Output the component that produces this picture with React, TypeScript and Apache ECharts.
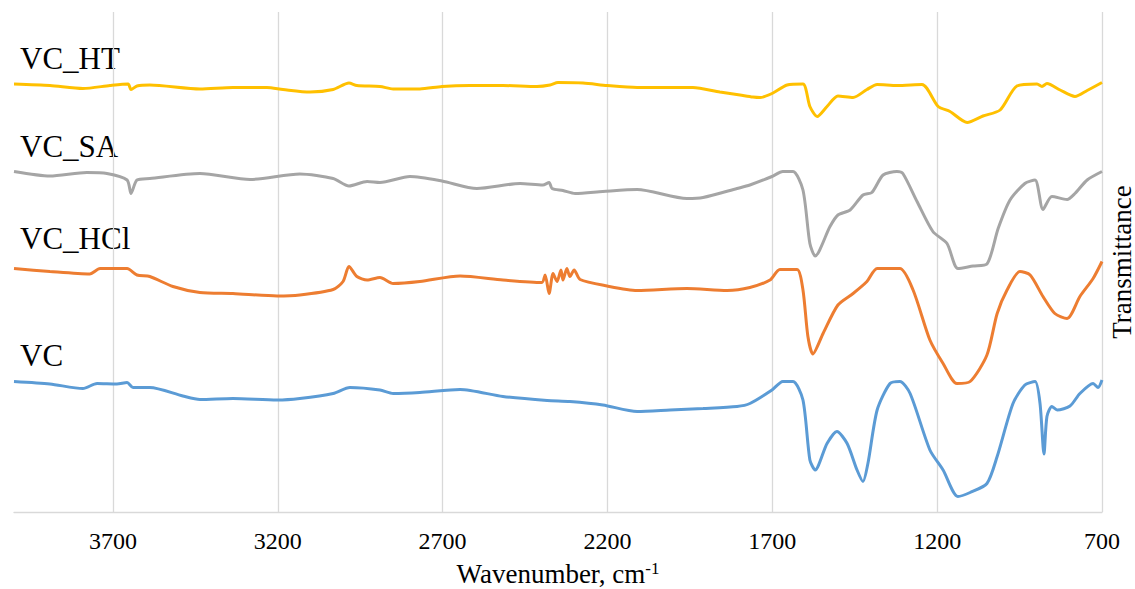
import React, { useEffect, useRef } from "react";
import * as echarts from "echarts";

// ---- data (wavenumber, cm-1 / transmittance, arbitrary offset units) ----
const vcWave = [4000, 3891, 3791, 3748, 3688, 3657, 3639, 3588, 3488, 3436, 3336, 3202, 3133, 3032, 2981, 2890, 2850, 2769, 2647, 2517, 2383, 2314, 2214, 2110, 2010, 1910, 1807, 1768, 1701, 1668, 1637, 1607, 1586, 1570, 1534, 1504, 1473, 1443, 1425, 1410, 1382, 1343, 1313, 1282, 1222, 1182, 1137, 1100, 1049, 1018, 970, 934, 903, 888, 876, 867, 852, 836, 797, 767, 727, 712, 700];
const vcT = [26.1, 25.6, 24.7, 25.7, 25.6, 25.9, 24.9, 24.9, 23.2, 22.5, 22.7, 22.4, 22.7, 23.7, 24.9, 24.4, 23.7, 23.9, 24.5, 23.1, 22.3, 22.1, 21.4, 20.1, 20.4, 20.7, 21.1, 21.7, 24.4, 26.1, 26.1, 22.4, 10.4, 8.4, 13.7, 16.1, 13.7, 8.4, 6.1, 9.7, 20.4, 25.7, 26.1, 23.7, 12.4, 8.4, 3.1, 3.9, 5.7, 11.1, 21.7, 25.4, 26.1, 21.7, 11.6, 19.1, 21.1, 20.4, 21.2, 23.7, 25.7, 24.9, 26.4];

const hclWave = [4000, 3891, 3770, 3739, 3657, 3627, 3588, 3518, 3436, 3336, 3202, 3133, 3032, 3002, 2984, 2960, 2929, 2890, 2850, 2769, 2647, 2517, 2399, 2389, 2377, 2365, 2353, 2341, 2335, 2323, 2314, 2301, 2283, 2201, 2110, 1959, 1837, 1768, 1707, 1677, 1625, 1607, 1592, 1577, 1546, 1501, 1455, 1413, 1382, 1313, 1273, 1222, 1182, 1140, 1100, 1049, 1018, 988, 949, 918, 879, 843, 806, 767, 727, 700];
const hclT = [48.7, 48.1, 47.6, 48.7, 48.7, 47.4, 47.1, 45.1, 43.9, 43.7, 43.2, 43.4, 44.5, 46.1, 49.1, 47.1, 46.4, 46.9, 45.7, 46.1, 47.2, 46.4, 45.9, 47.4, 43.7, 47.7, 46.1, 48.4, 46.4, 48.7, 47.1, 48.4, 46.5, 45.2, 44.3, 44.7, 44.3, 44.9, 46.4, 48.5, 48.5, 44.4, 35.1, 31.6, 35.7, 41.4, 43.7, 46.1, 48.7, 48.7, 44.4, 34.4, 29.7, 25.7, 26.1, 31.4, 39.7, 44.4, 48.1, 47.4, 43.1, 39.7, 38.7, 43.1, 46.7, 50.1];

const saWave = [4000, 3891, 3779, 3718, 3657, 3645, 3627, 3588, 3436, 3284, 3133, 3032, 2984, 2929, 2890, 2799, 2702, 2596, 2465, 2396, 2377, 2368, 2335, 2298, 2214, 2110, 1959, 1910, 1807, 1768, 1701, 1668, 1637, 1607, 1586, 1570, 1525, 1501, 1464, 1425, 1398, 1364, 1322, 1304, 1261, 1213, 1170, 1137, 1091, 1049, 1015, 979, 934, 903, 879, 852, 806, 782, 745, 700];
const saT = [68.1, 67.2, 67.9, 67.7, 66.4, 63.7, 66.4, 66.7, 67.7, 66.5, 67.6, 66.7, 65.2, 66.1, 65.9, 67.1, 66.2, 64.7, 65.7, 65.4, 65.9, 64.7, 64.3, 63.7, 64.1, 64.5, 62.7, 62.9, 64.7, 65.4, 67.1, 68.1, 68.1, 64.4, 53.7, 51.2, 57.1, 59.4, 60.4, 63.4, 63.9, 67.4, 68.1, 67.7, 62.1, 56.1, 53.7, 48.7, 49.2, 49.6, 56.7, 62.4, 65.7, 66.4, 60.5, 63.1, 62.5, 63.7, 66.4, 68.1];

const htWave = [4000, 3891, 3791, 3709, 3654, 3645, 3627, 3588, 3436, 3336, 3233, 3184, 3102, 3032, 2984, 2960, 2890, 2850, 2769, 2702, 2617, 2517, 2414, 2374, 2350, 2274, 2201, 2110, 2010, 1941, 1859, 1798, 1759, 1737, 1701, 1655, 1607, 1586, 1564, 1534, 1501, 1455, 1413, 1382, 1322, 1246, 1197, 1161, 1109, 1061, 1009, 958, 897, 882, 867, 827, 782, 745, 700];
const htT = [85.6, 85.3, 84.7, 85.3, 85.6, 84.5, 85.2, 85.4, 84.6, 84.9, 84.9, 84.5, 84.0, 84.5, 85.8, 85.3, 85.1, 84.6, 84.6, 85.1, 85.3, 85.3, 85.1, 85.4, 85.9, 85.8, 85.3, 84.9, 84.9, 84.9, 84.0, 83.4, 83.0, 82.9, 83.7, 85.4, 85.6, 81.1, 79.1, 81.1, 83.2, 82.9, 84.5, 85.5, 85.3, 85.5, 81.1, 80.1, 77.9, 79.2, 80.4, 85.2, 85.6, 85.1, 85.7, 84.4, 83.1, 84.3, 85.9];

const seriesNames = ["VC", "VC_HCl", "VC_SA", "VC_HT"];
const seriesColors = ["#5B9BD5", "#ED7D31", "#A5A5A5", "#FFC000"];
const xTicks = [700, 1200, 1700, 2200, 2700, 3200, 3700];
const xMin = 700;
const xMax = 4000;
const xInterval = 500;

const curveLabels = ["VC_HT", "VC_SA", "VC_HCl", "VC"];
const curveLabelTops = [43, 131, 223, 340];

const FONT = "'Liberation Serif', 'Times New Roman', serif";

function pairs(w: number[], t: number[]) {
  return w.map((x, i) => [x, t[i]]);
}

export default function App() {
  const ref = useRef<HTMLDivElement>(null);
  useEffect(() => {
    if (!ref.current) return;
    const chart = echarts.init(ref.current, undefined, { renderer: "svg" });
    const dataSets = [pairs(vcWave, vcT), pairs(hclWave, hclT), pairs(saWave, saT), pairs(htWave, htT)];
    const splitColors = xTicks.map(() => "#D9D9D9").concat(["rgba(0,0,0,0)"]);
    chart.setOption({
      animation: false,
      backgroundColor: "#ffffff",
      grid: { left: 14, right: 33, top: 12, bottom: 77, containLabel: false, outerBoundsMode: "none" },
      xAxis: {
        type: "value",
        min: xMin,
        max: xMax,
        interval: xInterval,
        inverse: true,
        axisLine: { show: true, lineStyle: { color: "#D9D9D9", width: 1.3 } },
        axisTick: { show: false },
        splitLine: { show: true, lineStyle: { color: splitColors, width: 1.3 } },
        axisLabel: {
          showMaxLabel: false,
          color: "#000",
          fontFamily: FONT,
          fontSize: 24,
          margin: 17,
          formatter: (v: number) => (xTicks.includes(v) ? String(v) : ""),
        },
        name: "{a|Wavenumber, cm}{s|-1}",
        nameLocation: "middle",
        nameGap: 48,
        nameTextStyle: {
          rich: {
            a: { fontFamily: FONT, fontSize: 27, color: "#000" },
            s: { fontFamily: FONT, fontSize: 17, color: "#000", verticalAlign: "top" },
          },
        },
      },
      yAxis: {
        type: "value",
        min: 0,
        max: 100,
        position: "right",
        axisLine: { show: false },
        axisTick: { show: false },
        axisLabel: { show: false },
        splitLine: { show: false },
        name: "Transmittance",
        nameLocation: "middle",
        nameRotate: 90,
        nameGap: 6,
        nameTextStyle: { fontFamily: FONT, fontSize: 27, color: "#000" },
      },
      series: dataSets.map((d, i) => ({
        name: seriesNames[i],
        type: "line",
        data: d,
        showSymbol: false,
        symbol: "none",
        smooth: 0.25,
        lineStyle: { color: seriesColors[i], width: 3 },
        itemStyle: { color: seriesColors[i] },
      })),
      graphic: curveLabels.map((txt, i) => ({
        type: "text",
        left: 20,
        top: curveLabelTops[i],
        style: { text: txt, fontFamily: FONT, fontSize: 31, fill: "#000" },
      })),
    });
    return () => chart.dispose();
  }, []);
  return (
    <div
      ref={ref}
      style={{ position: "fixed", left: 0, top: 0, width: 1135, height: 589, background: "#fff" }}
    />
  );
}
